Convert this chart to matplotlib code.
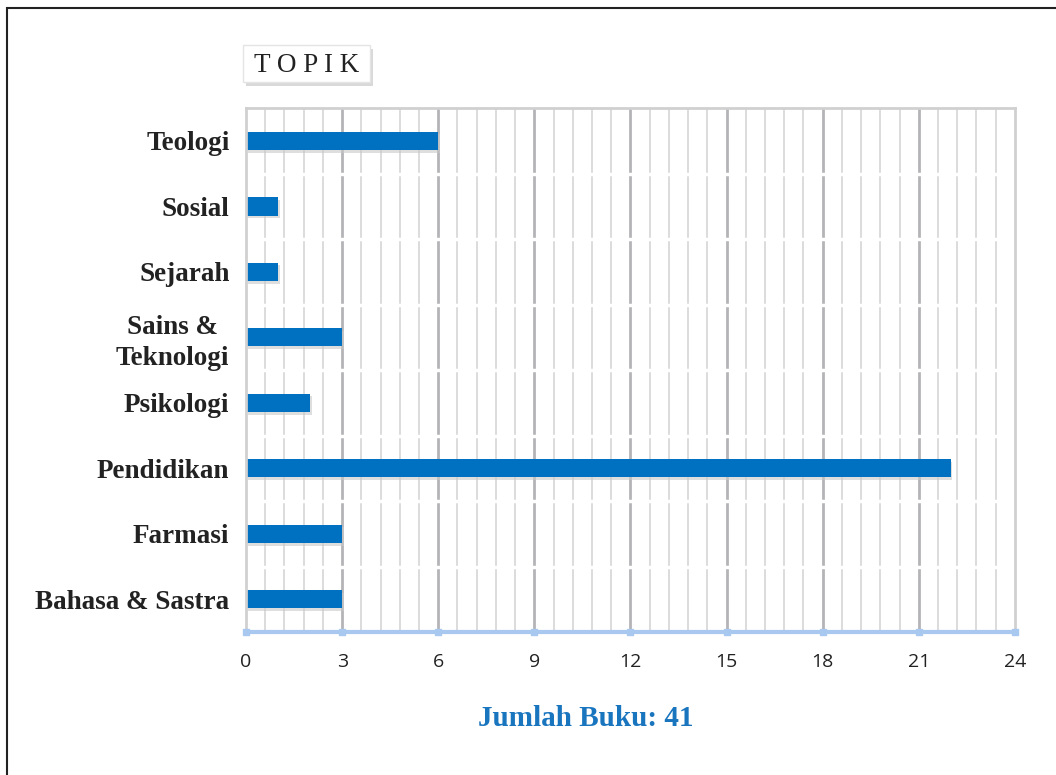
import matplotlib.pyplot as plt
from matplotlib.patches import Rectangle
import numpy as np

# data (bottom to top)
topics = ['Bahasa & Sastra', 'Farmasi', 'Pendidikan', 'Psikologi',
          'Sains &\nTeknologi', 'Sejarah', 'Sosial', 'Teologi']
counts = [3, 3, 22, 2, 3, 1, 1, 6]
x_ticks = [0, 3, 6, 9, 12, 15, 18, 21, 24]

fig = plt.figure(figsize=(10.56, 7.75), dpi=100)
ax = fig.add_axes([0.233, 0.1845, 0.728, 0.676])

y = np.arange(len(topics))

# grid: minor every 0.6, major every 3
for v in np.arange(0.6, 24, 0.6):
    if abs(v / 3 - round(v / 3)) < 1e-6:
        ax.axvline(v, color='#b4b4b8', lw=2.0, zorder=0)
    else:
        ax.axvline(v, color='#d9d9d9', lw=1.3, zorder=0)
for b in np.arange(0.5, len(topics) - 0.5, 1):
    ax.axhline(b, color='white', lw=2.5, zorder=0.5)

# shadow + bars
ax.barh(y - 0.04, counts, height=0.28, left=0.05, color='#c8c8c8', alpha=0.6, zorder=1)
ax.barh(y, counts, height=0.28, color='#0070c0', zorder=2)

ax.set_xlim(0, 24)
ax.set_ylim(-0.5, len(topics) - 0.5)
ax.set_xticks(x_ticks)
ax.set_xticklabels([str(t) for t in x_ticks], fontsize=14, family='Open Sans', color='#222222')
ax.set_yticks(y)
ax.set_yticklabels(topics, fontsize=19.5, family='Liberation Serif', fontweight='bold',
                   color='#222222', multialignment='center', linespacing=1.3)
ax.tick_params(axis='y', length=0, pad=12)
ax.tick_params(axis='x', length=0, pad=15)

for s in ['top', 'right', 'left']:
    ax.spines[s].set_color('#d0d0d0')
    ax.spines[s].set_linewidth(2)
ax.spines['bottom'].set_color('#a9c8f0')
ax.spines['bottom'].set_linewidth(3)

# small square markers on bottom axis
ax.plot(x_ticks, [-0.5] * len(x_ticks), 's', color='#a9c8f0', ms=5, clip_on=False, zorder=5)

# title box with shadow
fig.patches.append(Rectangle((246 / 1056, (775 - 86) / 775), 127 / 1056, 37 / 775,
                             transform=fig.transFigure, fc='#c0c0c0', ec='none', alpha=0.6))
fig.patches.append(Rectangle((243 / 1056, (775 - 82) / 775), 127 / 1056, 37 / 775,
                             transform=fig.transFigure, fc='white', ec='#e4e4e4', lw=1))
fig.text(307 / 1056, 1 - 65 / 775, 'T O P I K', fontsize=19.5, family='Liberation Serif',
         color='#222222', ha='center', va='center')

fig.text(586 / 1056, 1 - 718 / 775, 'Jumlah Buku: 41', fontsize=21, family='Liberation Serif',
         fontweight='bold', color='#1a75bf', ha='center', va='center')

# outer frame
fig.patches.append(Rectangle((7 / 1056, -0.05), 1.1, 0.05 + (775 - 8) / 775,
                             transform=fig.transFigure, fill=False, ec='#222222', lw=1.5))

fig.savefig('out.png', dpi=100)
